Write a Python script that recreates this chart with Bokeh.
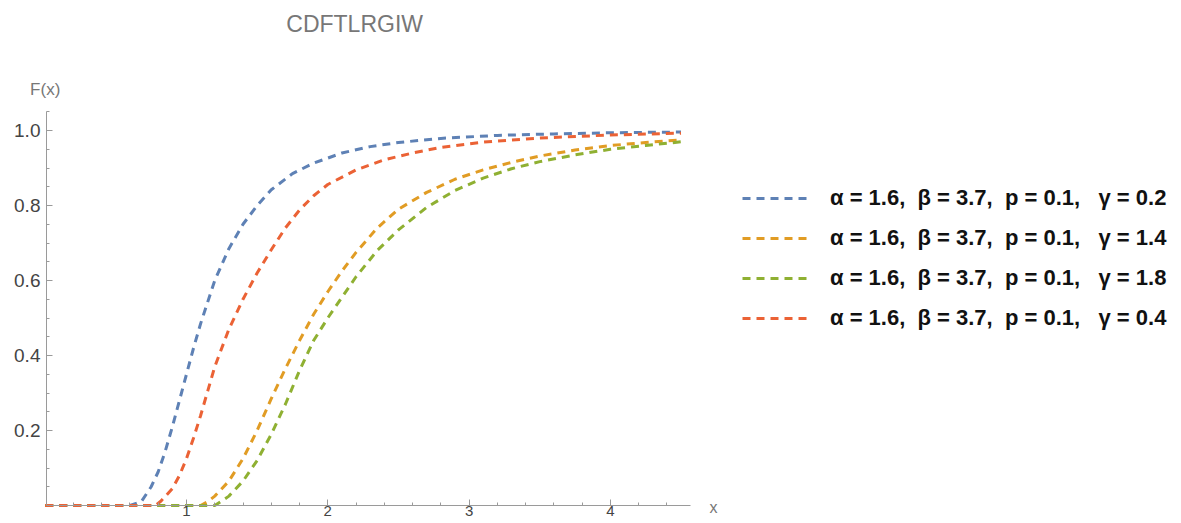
from bokeh.plotting import figure
from bokeh.models import (FixedTicker, Label, Legend, LegendItem, Range1d,
                          PrintfTickFormatter)
from bokeh.embed import file_html
from bokeh.resources import INLINE

title_text = "CDFTLRGIW"
y_label = "F(x)"
x_label = "x"

series_labels = [
    "α = 1.6,  β = 3.7,  p = 0.1,   γ = 0.2",
    "α = 1.6,  β = 3.7,  p = 0.1,   γ = 1.4",
    "α = 1.6,  β = 3.7,  p = 0.1,   γ = 1.8",
    "α = 1.6,  β = 3.7,  p = 0.1,   γ = 0.4",
]
series_colors = ["#5E81B5", "#E19C24", "#8FB032", "#EB6235"]

x_blue = [0.0, 0.3, 0.6, 0.68, 0.75, 0.8, 0.85, 0.9, 0.95, 1.0, 1.05, 1.1, 1.2, 1.3,
          1.4, 1.5, 1.6, 1.75, 1.9, 2.1, 2.3, 2.5, 2.8, 3.2, 3.6, 4.0, 4.5]
y_blue = [0, 0, 0, 0.01, 0.05, 0.09, 0.145, 0.21, 0.28, 0.35, 0.42, 0.485, 0.6, 0.685,
          0.75, 0.80, 0.842, 0.885, 0.913, 0.94, 0.957, 0.968, 0.979, 0.987, 0.991, 0.994, 0.996]

x_orange = [0.0, 0.6, 1.1, 1.15, 1.2, 1.3, 1.4, 1.5, 1.6, 1.7, 1.8, 1.9, 2.0, 2.1, 2.2,
            2.35, 2.5, 2.7, 2.9, 3.1, 3.3, 3.5, 3.75, 4.0, 4.25, 4.5]
y_orange = [0, 0, 0, 0.01, 0.025, 0.065, 0.125, 0.2, 0.285, 0.365, 0.44, 0.51, 0.57, 0.625,
            0.675, 0.74, 0.79, 0.835, 0.87, 0.895, 0.915, 0.932, 0.948, 0.96, 0.968, 0.975]

x_green = [0.0, 0.6, 1.2, 1.25, 1.3, 1.4, 1.5, 1.6, 1.7, 1.8, 1.9, 2.0, 2.1, 2.2, 2.35,
           2.5, 2.7, 2.9, 3.1, 3.3, 3.5, 3.75, 4.0, 4.25, 4.5]
y_green = [0, 0, 0, 0.012, 0.025, 0.065, 0.12, 0.19, 0.27, 0.36, 0.44, 0.5, 0.555, 0.61,
           0.68, 0.735, 0.795, 0.84, 0.873, 0.898, 0.917, 0.935, 0.95, 0.96, 0.97]

x_red = [0.0, 0.5, 0.78, 0.82, 0.9, 0.95, 1.0, 1.05, 1.1, 1.15, 1.2, 1.3, 1.4, 1.5,
         1.6, 1.7, 1.8, 1.9, 2.0, 2.2, 2.4, 2.6, 2.8, 3.1, 3.5, 4.0, 4.5]
y_red = [0, 0, 0, 0.012, 0.045, 0.08, 0.125, 0.18, 0.24, 0.305, 0.37, 0.47, 0.55, 0.62,
         0.682, 0.74, 0.788, 0.826, 0.856, 0.895, 0.922, 0.94, 0.955, 0.969, 0.98, 0.988, 0.993]

x_major = [1, 2, 3, 4]
x_minor = [0.2, 0.4, 0.6, 0.8, 1.2, 1.4, 1.6, 1.8, 2.2, 2.4, 2.6, 2.8, 3.2, 3.4, 3.6,
           3.8, 4.2, 4.4]
y_major = [0.2, 0.4, 0.6, 0.8, 1.0]
y_minor = [0.05, 0.1, 0.15, 0.25, 0.3, 0.35, 0.45, 0.5, 0.55, 0.65, 0.7, 0.75, 0.85,
           0.9, 0.95, 1.05]

# axis extents and placement
x_axis_bounds = (0.009, 4.567)
y_axis_bounds = (0.0, 1.052)
y_axis_at_x = 0.009
x_axis_at_y = 0.0

FONT = "Liberation Sans"
AXIS_COLOR = "#9a9a9a"

p = figure(width=1181, height=523, output_backend="svg", toolbar_location=None,
           x_range=Range1d(-0.3163, 8.042), y_range=Range1d(-0.048, 1.3467),
           min_border_left=0, min_border_right=0, min_border_top=0,
           min_border_bottom=0)
p.outline_line_color = None
p.xgrid.visible = False
p.ygrid.visible = False
p.background_fill_color = "white"
p.border_fill_color = "white"

for ax in (p.xaxis[0], p.yaxis[0]):
    ax.axis_line_color = AXIS_COLOR
    ax.major_tick_line_color = AXIS_COLOR
    ax.minor_tick_line_color = AXIS_COLOR
    ax.major_tick_in = 6
    ax.major_tick_out = 0
    ax.minor_tick_in = 3
    ax.minor_tick_out = 0
    ax.major_label_text_font = FONT
    ax.major_label_text_color = "#444444"
    ax.major_label_text_font_size = "19px"

p.xaxis[0].ticker = FixedTicker(ticks=x_major, minor_ticks=x_minor)
p.yaxis[0].ticker = FixedTicker(ticks=y_major, minor_ticks=y_minor)
p.xaxis[0].formatter = PrintfTickFormatter(format="%d")
p.yaxis[0].formatter = PrintfTickFormatter(format="%.1f")
p.xaxis[0].bounds = x_axis_bounds
p.yaxis[0].bounds = y_axis_bounds
p.xaxis[0].fixed_location = x_axis_at_y
p.yaxis[0].fixed_location = y_axis_at_x
p.xaxis[0].major_label_standoff = 0
p.xaxis[0].major_label_text_font_size = "15px"
p.yaxis[0].major_label_standoff = 6

renderers = []
for xs, ys, c in zip([x_blue, x_orange, x_green, x_red],
                     [y_blue, y_orange, y_green, y_red], series_colors):
    r = p.line(xs, ys, line_color=c, line_width=3, line_dash="8 6")
    renderers.append(r)

legend = Legend(
    items=[LegendItem(label=l, renderers=[r]) for l, r in zip(series_labels, renderers)],
    location=(732, 182), glyph_width=68, glyph_height=24, label_height=24,
    label_standoff=20, spacing=14, padding=10,
    border_line_alpha=0, background_fill_alpha=0,
    label_text_font=FONT, label_text_font_style="bold", label_text_font_size="22px",
    label_text_color="#111111")
p.add_layout(legend)

p.add_layout(Label(x=2.19, y=1.285, text=title_text, text_align="center",
                   text_baseline="middle", text_font=FONT, text_font_size="23px",
                   text_color="#777777"))
p.add_layout(Label(x=0.0, y=1.11, text=y_label, text_align="center",
                   text_baseline="middle", text_font=FONT, text_font_size="17px",
                   text_color="#777777"))
p.add_layout(Label(x=4.73, y=-0.005, text=x_label, text_align="center",
                   text_baseline="middle", text_font=FONT, text_font_size="16px",
                   text_color="#777777"))

open("out.html", "w").write(file_html(p, INLINE))
